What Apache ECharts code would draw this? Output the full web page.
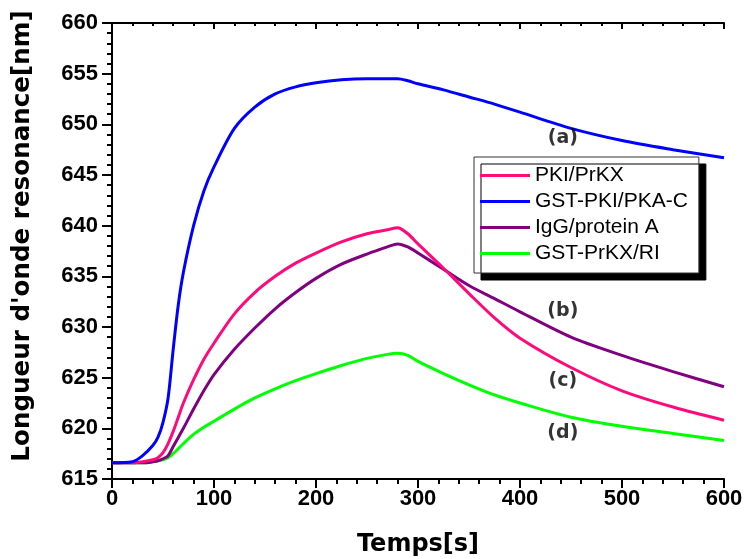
<!DOCTYPE html>
<html>
<head>
<meta charset="utf-8">
<script src="https://cdn.jsdelivr.net/npm/echarts@6/dist/echarts.min.js"></script>
<style>html,body{margin:0;padding:0;background:#fff;}#c{width:744px;height:559px;}</style>
</head>
<body>
<div id="c"></div>
<script>
// time points (s)
const times = [0,20,30,40,45,50,55,60,65,70,80,90,100,120,140,160,180,200,225,250,270,280,290,300,325,350,375,400,450,500,550,600];
// resonance wavelength (nm)
const pkiPrkx   = [616.6,616.6,616.7,616.9,617.1,617.6,618.5,619.7,621.1,622.5,624.8,626.8,628.4,631.3,633.4,635.0,636.3,637.3,638.4,639.2,639.6,639.8,639.2,638.2,635.8,633.3,630.9,628.9,626.0,623.7,622.1,620.8];
const gstPkiPkaC= [616.6,616.7,617.3,618.3,619.1,620.6,623.0,627.8,632.2,635.4,640.0,643.4,645.8,649.6,651.7,653.0,653.7,654.1,654.4,654.5,654.5,654.5,654.3,654.0,653.4,652.7,652.0,651.2,649.6,648.4,647.5,646.7];
const iggProtA  = [616.6,616.6,616.6,616.7,616.8,617.0,617.3,618.2,619.1,620.0,621.9,623.7,625.3,627.8,629.9,631.8,633.4,634.8,636.2,637.2,637.9,638.2,637.9,637.3,635.7,634.1,632.8,631.5,629.0,627.2,625.6,624.1];
const gstPrkxRi = [616.6,616.6,616.6,616.7,616.8,616.9,617.1,617.5,618.0,618.5,619.4,620.1,620.7,621.9,623.0,623.9,624.7,625.4,626.2,626.9,627.3,627.4,627.2,626.6,625.4,624.3,623.3,622.5,621.1,620.2,619.5,618.8];
const seriesNames = ['PKI/PrKX','GST-PKI/PKA-C','IgG/protein A','GST-PrKX/RI'];
const seriesColors = ['#ff0a7a','#0000ff','#800080','#00ff00'];
// curve annotations: [time, wavelength, text]
const annotations = [[442,648.6,'(a)'],[442,631.6,'(b)'],[442,624.7,'(c)'],[442,619.5,'(d)']];
// axis ranges
const xMin = 0, xMax = 600, xStep = 100;
const yMin = 615, yMax = 660, yStep = 5;

const allValues = [pkiPrkx, gstPkiPkaC, iggProtA, gstPrkxRi];
const series = allValues.map((vals, i) => ({
  name: seriesNames[i],
  type: 'line',
  data: times.map((t, j) => [t, vals[j]]),
  smooth: 0.3,
  showSymbol: false,
  lineStyle: { color: seriesColors[i], width: 3 },
  itemStyle: { color: seriesColors[i] },
  z: [3,4,2,1][i]
}));
series.push({
  type: 'scatter',
  name: 'labels',
  data: annotations.map(a => ({ value: [a[0], a[1]], label: { formatter: a[2] } })),
  symbolSize: 0,
  z: 10,
  label: { show: true, position: 'inside', color: '#000', fontFamily: 'DejaVu Sans', fontWeight: 'bold', fontSize: 19 },
  silent: true
});

const tickLabelStyle = { color: '#000', fontFamily: 'Liberation Sans, Arial', fontWeight: 'bold', fontSize: 22 };
const axisLine = { show: true, lineStyle: { color: '#000', width: 2 } };

const chart = echarts.init(document.getElementById('c'), null, { renderer: 'canvas' });
chart.setOption({
  backgroundColor: '#fff',
  animation: false,
  grid: { left: 112, right: 20, top: 23, bottom: 80, containLabel: false, outerBoundsMode: 'none' },
  legend: {
    data: seriesNames,
    orient: 'vertical',
    left: 474, top: 157,
    icon: 'rect', itemWidth: 50, itemHeight: 3, itemGap: 5,
    padding: [8, 11, 9, 6],
    backgroundColor: '#fff', borderColor: '#333', borderWidth: 1,
    shadowColor: '#000', shadowBlur: 0, shadowOffsetX: 7, shadowOffsetY: 7,
    textStyle: { color: '#000', fontFamily: 'Liberation Sans, Arial', fontSize: 21, padding: [0,0,0,0] }
  },
  xAxis: [{
    type: 'value', min: xMin, max: xMax, interval: xStep, position: 'bottom',
    name: 'Temps[s]', nameLocation: 'middle', nameGap: 54,
    nameTextStyle: { color: '#000', fontFamily: 'DejaVu Sans', fontWeight: 'bold', fontSize: 24 },
    axisLine, axisTick: { show: true, inside: false, length: 9, lineStyle: { color: '#000', width: 2 } },
    minorTick: { show: true, splitNumber: 5, length: 5, lineStyle: { color: '#000', width: 2 } },
    axisLabel: Object.assign({ margin: 9 }, tickLabelStyle),
    splitLine: { show: false }
  }, {
    type: 'value', min: xMin, max: xMax, interval: xStep, position: 'top',
    axisLine, axisTick: { show: true, inside: true, length: 6, lineStyle: { color: '#000', width: 2 } },
    minorTick: { show: true, splitNumber: 5, length: 3, lineStyle: { color: '#000', width: 2 } },
    axisLabel: { show: false }, splitLine: { show: false }
  }],
  yAxis: [{
    type: 'value', min: yMin, max: yMax, interval: yStep, position: 'left',
    name: "Longueur d'onde resonance[nm]", nameLocation: 'middle', nameGap: 77, nameRotate: 90,
    nameTextStyle: { color: '#000', fontFamily: 'DejaVu Sans', fontWeight: 'bold', fontSize: 24.6, padding: [0, 0, 0, 30] },
    axisLine, axisTick: { show: true, inside: false, length: 10, lineStyle: { color: '#000', width: 2 } },
    minorTick: { show: true, splitNumber: 5, length: 5, lineStyle: { color: '#000', width: 2 } },
    axisLabel: Object.assign({ margin: 14 }, tickLabelStyle),
    splitLine: { show: false }
  }, {
    type: 'value', min: yMin, max: yMax, interval: yStep, position: 'right',
    axisLine, axisTick: { show: true, inside: true, length: 6, lineStyle: { color: '#000', width: 2 } },
    minorTick: { show: true, splitNumber: 5, length: 3, lineStyle: { color: '#000', width: 2 } },
    axisLabel: { show: false }, splitLine: { show: false }
  }],
  series
});
</script>
</body>
</html>
